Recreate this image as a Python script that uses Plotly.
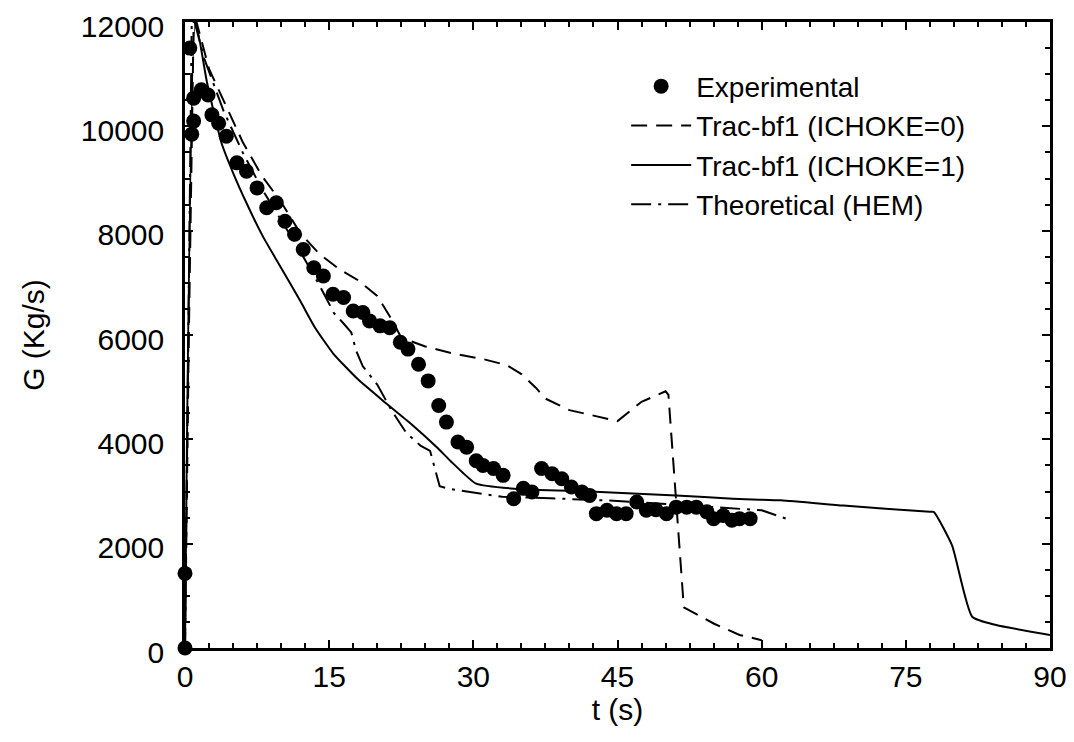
import plotly.graph_objects as go

# Experimental data
exp_t = [0, 0, 0.5, 0.7, 0.9, 0.9, 1.7, 2.4, 2.8, 3.5, 4.3, 5.4, 6.4, 7.5, 8.5, 9.5,
         10.4, 11.4, 12.3, 13.4, 14.4, 15.4, 16.5, 17.5, 18.5, 19.2, 20.3, 21.3, 22.4,
         23.2, 24.3, 25.3, 26.4, 27.2, 28.4, 29.3, 30.3, 31.0, 32.1, 33.1, 34.2, 35.2,
         36.1, 37.1, 38.2, 39.2, 40.2, 41.3, 42.1, 42.8, 43.9, 44.9, 45.9, 47.0, 48.0,
         49.0, 50.1, 51.1, 52.2, 53.2, 54.3, 55.0, 56.0, 56.9, 57.7, 58.8]
exp_G = [0, 1430, 11500, 9850, 10540, 10100, 10700, 10600, 10220, 10060, 9810, 9300,
         9140, 8820, 8440, 8535, 8180, 7930, 7640, 7290, 7130, 6780, 6720, 6460, 6430,
         6270, 6175, 6140, 5860, 5730, 5440, 5120, 4650, 4330, 3950, 3850, 3590, 3500,
         3440, 3310, 2860, 3060, 2990, 3440, 3340, 3245, 3085, 2990, 2925, 2575, 2640,
         2575, 2575, 2800, 2640, 2650, 2575, 2700, 2700, 2700, 2610, 2480, 2540, 2450,
         2480, 2480]

# Trac-bf1 (ICHOKE=0)
ich0_t = [0, 0.4, 0.9, 1.2, 2.5, 4, 6, 8, 10, 12, 14, 16, 18, 20, 21.5, 22.5, 25, 28,
          31, 33.5, 35, 36.5, 37.5, 40, 45, 47.5, 50, 50.3, 51.9, 55, 57.7, 60]
ich0_G = [0, 6000, 12000, 12000, 11100, 10500, 9700, 9050, 8550, 7950, 7550, 7270,
          7050, 6750, 6300, 5950, 5780, 5640, 5540, 5420, 5250, 4990, 4780, 4560, 4350,
          4720, 4920, 4850, 780, 470, 250, 150]

# Trac-bf1 (ICHOKE=1)
ich1_t = [0, 1.1, 2.3, 3.8, 5.0, 6.4, 8.1, 9.9, 12.0, 13.5, 15.4, 18.0, 20.6, 23.5,
          26.2, 27.6, 30.3, 34.5, 42.1, 51.1, 57, 62, 68.5, 77.5, 77.9, 79.8, 81.9,
          84.4, 90]
ich1_G = [0, 12000, 10830, 9680, 9110, 8530, 7890, 7320, 6650, 6150, 5650, 5150, 4740,
          4300, 3850, 3590, 3150, 3050, 3000, 2925, 2860, 2830, 2730, 2610, 2610, 1970,
          600, 440, 250]

# Theoretical (HEM)
hem_t = [0, 0.7, 1.0, 2, 4, 6, 8, 10, 12, 14, 15.5, 16.5, 17.3, 17.8, 18.5, 20, 21.5,
         23, 24.5, 25.5, 26.5, 27.5, 30, 33, 38, 45, 50, 55, 60, 63]
hem_G = [0, 12000, 12000, 11300, 10300, 9500, 8800, 8200, 7600, 6950, 6420, 6220,
         6050, 5700, 5400, 5050, 4550, 4130, 3880, 3780, 3100, 3050, 2980, 2900, 2870,
         2820, 2760, 2700, 2640, 2450]

x_ticks = [0, 15, 30, 45, 60, 75, 90]
y_ticks = [0, 2000, 4000, 6000, 8000, 10000, 12000]
y_ticktext = ["0", "2000", "4000", "6000", "8000", "10000", "12000"]

FONT = "Liberation Sans, Arial, Helvetica, sans-serif"
TICKFONT = dict(family=FONT, size=30, color="black")
TITLEFONT = dict(family=FONT, size=30, color="black")

fig = go.Figure()
fig.add_trace(go.Scatter(x=exp_t, y=exp_G, mode="markers", name="Experimental",
                         marker=dict(color="black", size=15), cliponaxis=False))
fig.add_trace(go.Scatter(x=ich0_t, y=ich0_G, mode="lines", name="Trac-bf1 (ICHOKE=0)",
                         line=dict(color="black", width=2, dash="16px,9px")))
fig.add_trace(go.Scatter(x=ich1_t, y=ich1_G, mode="lines", name="Trac-bf1 (ICHOKE=1)",
                         line=dict(color="black", width=2, shape="spline", smoothing=0.5)))
fig.add_trace(go.Scatter(x=hem_t, y=hem_G, mode="lines", name="Theoretical (HEM)",
                         line=dict(color="black", width=2, dash="20px,7px,3px,7px")))

axis_common = dict(
    showline=True, linecolor="black", linewidth=2.5, mirror="allticks",
    ticks="inside", ticklen=8, tickwidth=2, tickcolor="black",
    showgrid=False, zeroline=False, tickfont=TICKFONT,
    ticklabeloverflow="allow", automargin=False,
)

fig.update_xaxes(range=[0, 90], tickmode="array", tickvals=x_ticks,
                 ticklabelstandoff=0,
                 title=dict(text="t (s)", font=TITLEFONT, standoff=0),
                 minor=dict(dtick=2.5, ticks="inside", ticklen=5, tickwidth=1.5,
                            tickcolor="black"),
                 **axis_common)
fig.update_yaxes(range=[0, 12000], tickmode="array", tickvals=y_ticks,
                 ticktext=y_ticktext, ticklabelstandoff=12, ticklabelshift=4,
                 title=dict(text="G (Kg/s)", font=TITLEFONT, standoff=28),
                 minor=dict(dtick=500, ticks="inside", ticklen=5, tickwidth=1.5,
                            tickcolor="black"),
                 **axis_common)

fig.update_layout(
    width=1058, height=726,
    margin=dict(l=177, r=16, t=13.5, b=86, autoexpand=False),
    paper_bgcolor="white", plot_bgcolor="white",
    font=dict(family=FONT, color="black"),
    showlegend=True,
    legend=dict(x=0.51, y=0.937, xanchor="left", yanchor="top",
                bgcolor="rgba(0,0,0,0)", borderwidth=0,
                font=dict(family=FONT, size=28, color="black"),
                itemwidth=60, tracegroupgap=0),
)

fig.write_html("out.html")
